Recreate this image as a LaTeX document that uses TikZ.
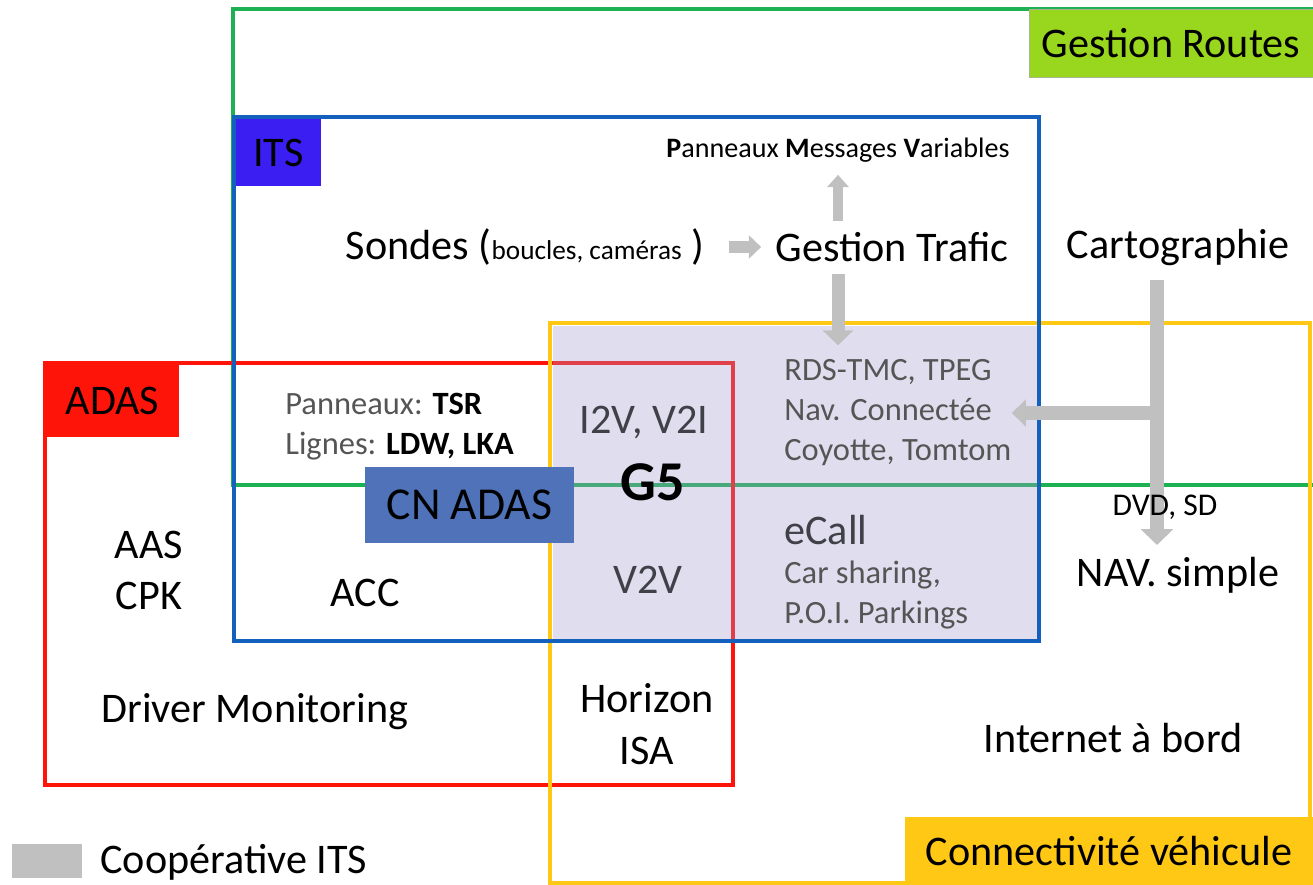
\documentclass[tikz,border=0pt]{standalone}
\usepackage{fontspec}
\setmainfont{Carlito}
\usepackage{tikz}
\usetikzlibrary{arrows.meta}

\definecolor{routesgreen}{RGB}{153,214,30}
\definecolor{linegreen}{RGB}{29,177,84}
\definecolor{itsblue}{RGB}{21,96,189}
\definecolor{itsfill}{RGB}{58,30,242}
\definecolor{adasred}{RGB}{255,20,10}
\definecolor{connyellow}{RGB}{255,200,20}
\definecolor{coopfill}{RGB}{161,155,203}
\definecolor{cnblue}{RGB}{79,114,184}
\definecolor{arrowgray}{RGB}{192,192,192}
\definecolor{textgray}{RGB}{85,85,85}
\definecolor{darkgraytext}{RGB}{64,64,72}

\newcommand{\bigfont}{\fontsize{24}{29}\selectfont}
\newcommand{\medfont}{\fontsize{18.5}{22.8}\selectfont}

\begin{document}
\begin{tikzpicture}[x=0.02cm, y=-0.02cm,
      zone/.style={line width=2.8pt},
      tag/.style={
            inner sep=0pt, text=black,
            font=\bigfont
        },
      big/.style={inner sep=0pt, font=\bigfont, align=center},
      med/.style={inner sep=0pt, font=\medfont, align=left, text=textgray},
      block/.style={arrowgray, line width=7.4pt,
            -{Triangle[width=17pt,length=8.5pt]}}
      ]
    \useasboundingbox (0,0) rectangle (1313,885);

    % zones
    \draw[zone, line width=2.2pt, linegreen] (233,9) rectangle (1320,485);
    \draw[zone, adasred] (45,363) rectangle (733,785);
    \draw[zone, connyellow] (550,323) rectangle (1310,883);
    \fill[coopfill, opacity=0.33] (553,326) rectangle (1037,639);
    \draw[zone, itsblue] (234,117) rectangle (1039,641);

    % zone titles
    \node[tag, fill=routesgreen, draw={rgb,255:red,170;green,180;blue,140}, thin,
          minimum width=5.68cm, minimum height=1.36cm] (routes) at (1171,43) {Gestion Routes};
    \node[tag, fill=itsfill, minimum width=1.7cm, minimum height=1.34cm] (its) at (278.5,152.5) {ITS};
    \node[tag, fill=adasred, minimum width=2.66cm, minimum height=1.46cm] (adas) at (112.5,400.5) {ADAS};
    \node[tag, fill=connyellow, minimum width=8.16cm, minimum height=1.36cm] (conn) at (1109,851) {Connectivit\'e v\'ehicule};
    \node[tag, fill=cnblue, font=\fontsize{26}{30}\selectfont,
          minimum width=4.18cm, minimum height=1.52cm] (cnadas) at (469.5,505) {CN ADAS};

    % ITS
    \node[big, font=\fontsize{16}{19}\selectfont] (pmv) at (838,150)
          {\textbf{P}anneaux \textbf{M}essages \textbf{V}ariables};
    \node[big] (sondes) at (525,247) {Sondes ({\fontsize{15.5}{18}\selectfont boucles, cam\'eras} )};
    \node[big] (trafic) at (892,247) {Gestion Trafic};
    \node[big] (carto) at (1178,247) {Cartographie};

    \node[med, anchor=west] (rds) at (784,413)
          {RDS-TMC, TPEG\\Nav. Connect\'ee\\Coyotte, Tomtom};
    \node[med, anchor=west] (signs) at (285,427)
          {Panneaux: \textcolor{black}{\textbf{TSR}}\\Lignes: \textcolor{black}{\textbf{LDW, LKA}}};
    \node[big, text=darkgraytext] (i2v) at (644,423) {I2V, V2I};
    \node[big, font=\fontsize{32}{36}\selectfont\bfseries] (g5) at (653,482) {G5};
    \node[big, text=darkgraytext] (v2v) at (648,580) {V2V};
    \node[big, text=darkgraytext, anchor=west] (ecall) at (784,530) {eCall};
    \node[med, anchor=west] (share) at (784,595) {Car sharing,\\P.O.I. Parkings};
    \node[big] (acc) at (365,593) {ACC};
    \node[big] (nav) at (1178,575) {NAV. simple};

    % ADAS
    \node[big] (aas) at (149,570) {AAS\\CPK};
    \node[big] (driver) at (255,712) {Driver Monitoring};
    \node[big, font=\fontsize{24}{30}\selectfont] (horizon) at (647,724) {Horizon\\ISA};
    \node[big] (web) at (1113,738) {Internet \`a bord};

    % cooperative ITS flows
    \coordinate (fork) at (1157,413);
    \draw[block, line width=7pt, -{Triangle[width=13pt,length=7pt]},
          shorten <=14pt, shorten >=8pt] (sondes.east) -- (trafic.west);
    \draw[block, line width=5.5pt, -{Triangle[width=12pt,length=7pt]},
          shorten <=6pt, shorten >=7pt] (pmv.south |- trafic.north) -- (pmv.south);
    \draw[block, shorten <=7pt, shorten >=8pt] (pmv.south |- trafic.south) -- (pmv.south |- rds.north);
    \draw[block, line width=8.5pt, -{Triangle[width=18pt,length=9pt]},
          shorten <=8pt] (fork |- carto.south) -- (fork |- 0,545);
    \draw[block, line width=7.4pt, -{Triangle[width=15pt,length=8pt]}] (fork) -- (rds.east |- fork);
    \node[med, text=black, font=\fontsize{18}{22}\selectfont] (media) at (1165,507) {DVD, SD};

    % legend
    \node[fill=arrowgray, inner sep=0pt, minimum width=1.4cm, minimum height=0.68cm] (key) at (47,861) {};
    \node[big, anchor=west] (keytext) at (100,862) {Coop\'erative ITS};
\end{tikzpicture}
\end{document}
